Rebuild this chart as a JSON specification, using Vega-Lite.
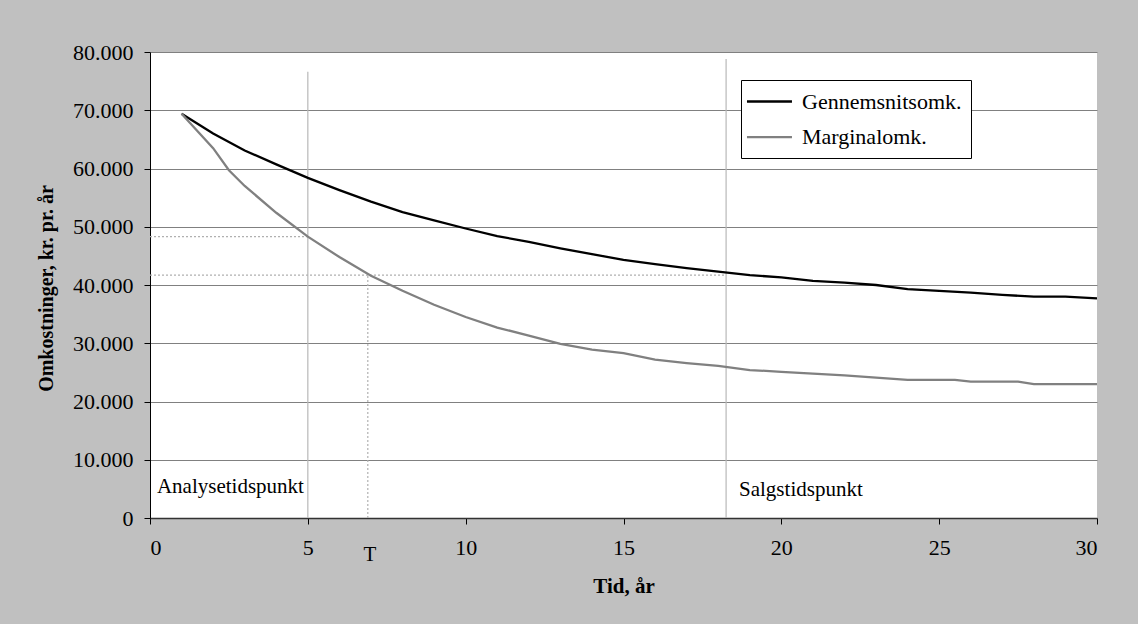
{
  "$schema": "https://vega.github.io/schema/vega-lite/v6.json",
  "width": 947,
  "height": 466,
  "autosize": {"type": "none"},
  "padding": {"left": 150, "top": 52, "right": 41, "bottom": 106},
  "background": "#c0c0c0",
  "config": {
    "view": {"fill": "white", "stroke": null},
    "font": "Liberation Serif",
    "text": {"font": "Liberation Serif"}
  },
  "datasets": {
    "kurver": [
      {"t": 1, "v": 69400, "serie": "Gennemsnitsomk."},
      {"t": 2, "v": 66000, "serie": "Gennemsnitsomk."},
      {"t": 3, "v": 63100, "serie": "Gennemsnitsomk."},
      {"t": 4, "v": 60700, "serie": "Gennemsnitsomk."},
      {"t": 5, "v": 58400, "serie": "Gennemsnitsomk."},
      {"t": 6, "v": 56300, "serie": "Gennemsnitsomk."},
      {"t": 7, "v": 54300, "serie": "Gennemsnitsomk."},
      {"t": 8, "v": 52500, "serie": "Gennemsnitsomk."},
      {"t": 9, "v": 51100, "serie": "Gennemsnitsomk."},
      {"t": 10, "v": 49700, "serie": "Gennemsnitsomk."},
      {"t": 11, "v": 48400, "serie": "Gennemsnitsomk."},
      {"t": 12, "v": 47400, "serie": "Gennemsnitsomk."},
      {"t": 13, "v": 46300, "serie": "Gennemsnitsomk."},
      {"t": 14, "v": 45300, "serie": "Gennemsnitsomk."},
      {"t": 15, "v": 44300, "serie": "Gennemsnitsomk."},
      {"t": 16, "v": 43600, "serie": "Gennemsnitsomk."},
      {"t": 17, "v": 42900, "serie": "Gennemsnitsomk."},
      {"t": 18, "v": 42300, "serie": "Gennemsnitsomk."},
      {"t": 19, "v": 41700, "serie": "Gennemsnitsomk."},
      {"t": 20, "v": 41300, "serie": "Gennemsnitsomk."},
      {"t": 21, "v": 40700, "serie": "Gennemsnitsomk."},
      {"t": 22, "v": 40400, "serie": "Gennemsnitsomk."},
      {"t": 23, "v": 40000, "serie": "Gennemsnitsomk."},
      {"t": 24, "v": 39300, "serie": "Gennemsnitsomk."},
      {"t": 25, "v": 39000, "serie": "Gennemsnitsomk."},
      {"t": 26, "v": 38700, "serie": "Gennemsnitsomk."},
      {"t": 27, "v": 38300, "serie": "Gennemsnitsomk."},
      {"t": 28, "v": 38000, "serie": "Gennemsnitsomk."},
      {"t": 29, "v": 38000, "serie": "Gennemsnitsomk."},
      {"t": 30, "v": 37700, "serie": "Gennemsnitsomk."},
      {"t": 1, "v": 69400, "serie": "Marginalomk."},
      {"t": 2, "v": 63500, "serie": "Marginalomk."},
      {"t": 2.5, "v": 59700, "serie": "Marginalomk."},
      {"t": 3, "v": 57000, "serie": "Marginalomk."},
      {"t": 4, "v": 52400, "serie": "Marginalomk."},
      {"t": 5, "v": 48300, "serie": "Marginalomk."},
      {"t": 6, "v": 44800, "serie": "Marginalomk."},
      {"t": 7, "v": 41600, "serie": "Marginalomk."},
      {"t": 8, "v": 39000, "serie": "Marginalomk."},
      {"t": 9, "v": 36600, "serie": "Marginalomk."},
      {"t": 10, "v": 34500, "serie": "Marginalomk."},
      {"t": 11, "v": 32700, "serie": "Marginalomk."},
      {"t": 12, "v": 31300, "serie": "Marginalomk."},
      {"t": 13, "v": 29900, "serie": "Marginalomk."},
      {"t": 14, "v": 28900, "serie": "Marginalomk."},
      {"t": 15, "v": 28300, "serie": "Marginalomk."},
      {"t": 16, "v": 27200, "serie": "Marginalomk."},
      {"t": 17, "v": 26600, "serie": "Marginalomk."},
      {"t": 18, "v": 26100, "serie": "Marginalomk."},
      {"t": 19, "v": 25400, "serie": "Marginalomk."},
      {"t": 20, "v": 25100, "serie": "Marginalomk."},
      {"t": 21, "v": 24800, "serie": "Marginalomk."},
      {"t": 22, "v": 24500, "serie": "Marginalomk."},
      {"t": 23, "v": 24100, "serie": "Marginalomk."},
      {"t": 24, "v": 23700, "serie": "Marginalomk."},
      {"t": 25, "v": 23700, "serie": "Marginalomk."},
      {"t": 25.5, "v": 23700, "serie": "Marginalomk."},
      {"t": 26, "v": 23400, "serie": "Marginalomk."},
      {"t": 27, "v": 23400, "serie": "Marginalomk."},
      {"t": 27.5, "v": 23400, "serie": "Marginalomk."},
      {"t": 28, "v": 23000, "serie": "Marginalomk."},
      {"t": 29, "v": 23000, "serie": "Marginalomk."},
      {"t": 30, "v": 23000, "serie": "Marginalomk."}
    ],
    "lodret": [
      {"t": 5, "v": 0, "v2": 76600},
      {"t": 18.25, "v": 0, "v2": 78800}
    ],
    "prikket": [
      {"t": 0, "t2": 5, "v": 48300, "v2": 48300},
      {"t": 0, "t2": 18.25, "v": 41700, "v2": 41700},
      {"t": 6.9, "t2": 6.9, "v": 0, "v2": 41700}
    ],
    "tekst": [
      {"t": 0.22, "v": 4300, "label": "Analysetidspunkt"},
      {"t": 18.66, "v": 3800, "label": "Salgstidspunkt"}
    ],
    "tmark": [
      {"t": 6.97, "v": -7400, "label": "T"}
    ]
  },
  "encoding": {
    "x": {
      "field": "t",
      "type": "quantitative",
      "scale": {"domain": [0, 30], "nice": false, "zero": false},
      "axis": {
        "title": "Tid, år",
        "values": [0, 5, 10, 15, 20, 25, 30],
        "grid": false,
        "domainColor": "#333333",
        "domainWidth": 1.5,
        "tickColor": "#000000",
        "tickSize": 6,
        "labelFontSize": 22,
        "labelColor": "#000000",
        "labelPadding": 13,
        "labelFont": "Liberation Serif",
        "titleFont": "Liberation Serif",
        "titleFontSize": 21,
        "titleFontWeight": "bold",
        "titleColor": "#000000",
        "titlePadding": 17
      }
    },
    "y": {
      "field": "v",
      "type": "quantitative",
      "scale": {"domain": [0, 80000], "nice": false},
      "axis": {
        "title": "Omkostninger, kr. pr. år",
        "values": [0, 10000, 20000, 30000, 40000, 50000, 60000, 70000, 80000],
        "labelExpr": "replace(format(datum.value, ','), ',', '.')",
        "grid": true,
        "gridColor": "#808080",
        "gridWidth": 1,
        "gridOpacity": 1,
        "domainColor": "#000000",
        "tickColor": "#000000",
        "tickSize": 6,
        "labelFontSize": 22,
        "labelColor": "#000000",
        "labelPadding": 11,
        "labelFont": "Liberation Serif",
        "titleFont": "Liberation Serif",
        "titleFontSize": 20,
        "titleFontWeight": "bold",
        "titleColor": "#000000",
        "titleX": -94,
        "titleY": 236,
        "titleBaseline": "bottom"
      }
    }
  },
  "layer": [
    {
      "data": {"name": "lodret"},
      "mark": {"type": "rule", "color": "#b8b8b8", "strokeWidth": 1.2},
      "encoding": {"y2": {"field": "v2"}}
    },
    {
      "data": {"name": "prikket"},
      "mark": {"type": "rule", "color": "#b0b0b0", "strokeWidth": 1.2, "strokeDash": [2, 2]},
      "encoding": {"x2": {"field": "t2"}, "y2": {"field": "v2"}}
    },
    {
      "data": {"name": "kurver"},
      "mark": {"type": "line", "strokeWidth": 2.3},
      "encoding": {
        "color": {
          "field": "serie",
          "type": "nominal",
          "scale": {"domain": ["Gennemsnitsomk.", "Marginalomk."], "range": ["#000000", "#808080"]},
          "legend": {
            "title": null,
            "orient": "none",
            "legendX": 591,
            "legendY": 28,
            "symbolType": "M-1.38,0L2.62,0",
            "symbolSize": 506,
            "symbolStrokeWidth": 2.3,
            "labelFont": "Liberation Serif",
            "labelFontSize": 22,
            "labelColor": "#000000",
            "labelOffset": 27,
            "padding": 9,
            "rowPadding": 11.6,
            "fillColor": "white",
            "strokeColor": "#000000"
          }
        }
      }
    },
    {
      "data": {"name": "tekst"},
      "mark": {"type": "text", "align": "left", "baseline": "alphabetic", "fontSize": 21, "font": "Liberation Serif", "color": "#000000"},
      "encoding": {"text": {"field": "label"}}
    },
    {
      "data": {"name": "tmark"},
      "mark": {"type": "text", "align": "center", "baseline": "alphabetic", "fontSize": 21, "font": "Liberation Serif", "color": "#000000"},
      "encoding": {"text": {"field": "label"}}
    }
  ]
}
